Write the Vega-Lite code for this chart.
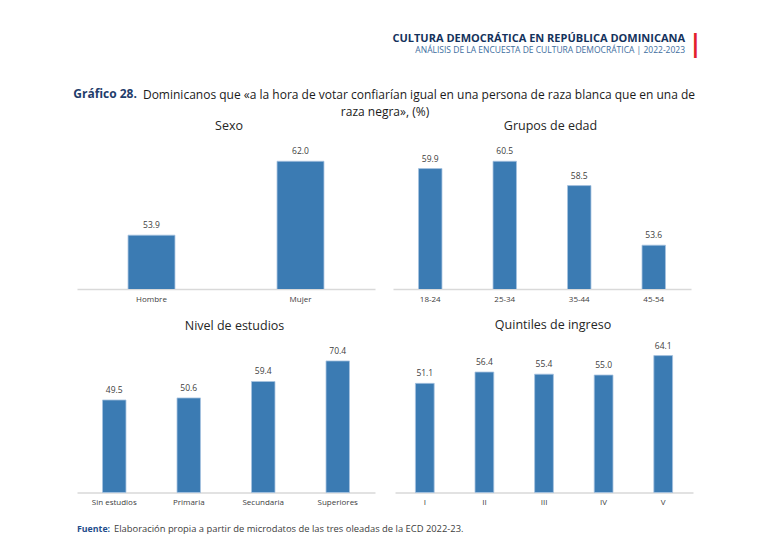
{
  "$schema": "https://vega.github.io/schema/vega-lite/v6.json",
  "background": "white",
  "padding": {"left": 73, "top": 32, "right": 5, "bottom": 5},
  "datasets": {
    "sexo": [
      {"cat": "Hombre", "pct": 53.9},
      {"cat": "Mujer", "pct": 62.0}
    ],
    "edad": [
      {"cat": "18-24", "pct": 59.9},
      {"cat": "25-34", "pct": 60.5},
      {"cat": "35-44", "pct": 58.5},
      {"cat": "45-54", "pct": 53.6}
    ],
    "estudios": [
      {"cat": "Sin estudios", "pct": 49.5},
      {"cat": "Primaria", "pct": 50.6},
      {"cat": "Secundaria", "pct": 59.4},
      {"cat": "Superiores", "pct": 70.4}
    ],
    "quintil": [
      {"cat": "I", "pct": 51.1},
      {"cat": "II", "pct": 56.4},
      {"cat": "III", "pct": 55.4},
      {"cat": "IV", "pct": 55.0},
      {"cat": "V", "pct": 64.1}
    ]
  },
  "title": {
    "text": "|", "anchor": "end", "dx": 4.7, "dy": 24, "offset": 0,
    "font": "DejaVu Sans", "fontSize": 24, "fontWeight": "bold", "color": "#e3202b"
  },
  "vconcat": [{
    "title": {
      "text": "CULTURA DEMOCRÁTICA EN REPÚBLICA DOMINICANA", "anchor": "end", "dx": -10, "offset": 2.5,
      "font": "Open Sans", "fontSize": 11, "fontWeight": "bold", "color": "#14325c"
    },
    "vconcat": [{
      "title": {
        "text": "ANÁLISIS DE LA ENCUESTA DE CULTURA DEMOCRÁTICA | 2022-2023", "anchor": "end", "dx": -10, "offset": 33.5,
        "font": "Open Sans", "fontSize": 8.5, "fontWeight": "normal", "color": "#3d6d9e"
      },
      "vconcat": [{
        "title": {
          "text": "Gráfico 28.", "anchor": "start", "dx": -3.7, "dy": 12, "offset": 0,
          "font": "Open Sans", "fontSize": 12, "fontWeight": "bold", "color": "#1f3d6b"
        },
        "vconcat": [{
          "title": {
            "text": "Dominicanos que «a la hora de votar confiarían igual en una persona de raza blanca que en una de",
            "anchor": "middle", "dx": 34, "offset": 4,
            "font": "Open Sans", "fontSize": 12, "fontWeight": "normal", "color": "#1a1a1a"
          },
          "vconcat": [{
            "title": {
              "text": "raza negra», (%)",
              "anchor": "middle", "offset": 1,
              "font": "Open Sans", "fontSize": 12, "fontWeight": "normal", "color": "#1a1a1a"
            },
            "vconcat": [{
              "title": {
                "text": "Elaboración propia a partir de microdatos de las tres oleadas de la ECD 2022-23.",
                "orient": "bottom", "anchor": "start", "dx": 37, "dy": -9.3, "offset": 0,
                "font": "Open Sans", "fontSize": 9.4, "fontWeight": "normal", "color": "#404040"
              },
              "vconcat": [{
                "title": {
                  "text": "Fuente:", "orient": "bottom", "anchor": "start", "offset": 18.7,
                  "font": "Open Sans", "fontSize": 8.8, "fontWeight": "bold", "color": "#1f4e8c"
                },
                "spacing": 15,
                "vconcat": [
                  {
                    "spacing": 18,
                    "hconcat": [
                      {
                        "title": {"text": "Sexo", "dx": 3},
                        "width": 298, "height": 146,
                        "data": {"name": "sexo"},
                        "encoding": {
                          "x": {"field": "cat", "type": "nominal", "sort": null, "scale": {"paddingInner": 0.685, "paddingOuter": 0.3425}, "axis": {"title": null}},
                          "y": {"field": "pct", "type": "quantitative", "scale": {"domain": [48, 64], "zero": false}, "axis": null}
                        },
                        "layer": [
                          {"mark": {"type": "bar", "clip": true, "fill": "#3b7bb3", "stroke": "#a7c3df", "strokeWidth": 0.8}},
                          {"mark": {"type": "text", "baseline": "bottom", "dy": -5, "font": "Open Sans", "fontSize": 8.5, "color": "#404040"},
                           "encoding": {"text": {"field": "pct", "type": "quantitative", "format": ".1f"}}}
                        ]
                      },
                      {
                        "title": {"text": "Grupos de edad", "dx": 8.5},
                        "width": 298, "height": 146,
                        "data": {"name": "edad"},
                        "encoding": {
                          "x": {"field": "cat", "type": "nominal", "sort": null, "scale": {"paddingInner": 0.685, "paddingOuter": 0.3425}, "axis": {"title": null}},
                          "y": {"field": "pct", "type": "quantitative", "scale": {"domain": [50, 62], "zero": false}, "axis": null}
                        },
                        "layer": [
                          {"mark": {"type": "bar", "clip": true, "fill": "#3b7bb3", "stroke": "#a7c3df", "strokeWidth": 0.8}},
                          {"mark": {"type": "text", "baseline": "bottom", "dy": -5, "font": "Open Sans", "fontSize": 8.5, "color": "#404040"},
                           "encoding": {"text": {"field": "pct", "type": "quantitative", "format": ".1f"}}}
                        ]
                      }
                    ]
                  },
                  {
                    "spacing": 20,
                    "hconcat": [
                      {
                        "title": {"text": "Nivel de estudios", "dx": 8.5},
                        "width": 298, "height": 149.5,
                        "data": {"name": "estudios"},
                        "encoding": {
                          "x": {"field": "cat", "type": "nominal", "sort": null, "scale": {"paddingInner": 0.685, "paddingOuter": 0.3425}, "axis": {"title": null}},
                          "y": {"field": "pct", "type": "quantitative", "scale": {"domain": [0, 80]}, "axis": null}
                        },
                        "layer": [
                          {"mark": {"type": "bar", "fill": "#3b7bb3", "stroke": "#a7c3df", "strokeWidth": 0.8}},
                          {"mark": {"type": "text", "baseline": "bottom", "dy": -5, "font": "Open Sans", "fontSize": 8.5, "color": "#404040"},
                           "encoding": {"text": {"field": "pct", "type": "quantitative", "format": ".1f"}}}
                        ]
                      },
                      {
                        "title": {"text": "Quintiles de ingreso", "dx": 9},
                        "width": 298, "height": 149.5,
                        "data": {"name": "quintil"},
                        "encoding": {
                          "x": {"field": "cat", "type": "nominal", "sort": null, "scale": {"paddingInner": 0.685, "paddingOuter": 0.3425}, "axis": {"title": null}},
                          "y": {"field": "pct", "type": "quantitative", "scale": {"domain": [0, 70]}, "axis": null}
                        },
                        "layer": [
                          {"mark": {"type": "bar", "fill": "#3b7bb3", "stroke": "#a7c3df", "strokeWidth": 0.8}},
                          {"mark": {"type": "text", "baseline": "bottom", "dy": -5, "font": "Open Sans", "fontSize": 8.5, "color": "#404040"},
                           "encoding": {"text": {"field": "pct", "type": "quantitative", "format": ".1f"}}}
                        ]
                      }
                    ]
                  }
                ]
              }]
            }]
          }]
        }]
      }]
    }]
  }],
  "config": {
    "view": {"stroke": null},
    "title": {"font": "Open Sans", "fontSize": 12.5, "fontWeight": "normal", "color": "#262626", "offset": 10.5, "anchor": "middle"},
    "axisX": {
      "domainColor": "#d9d9d9", "domainWidth": 1.5, "ticks": false, "grid": false,
      "labelFont": "Open Sans", "labelFontSize": 8, "labelColor": "#404040", "labelPadding": 6, "labelAngle": 0
    }
  }
}
